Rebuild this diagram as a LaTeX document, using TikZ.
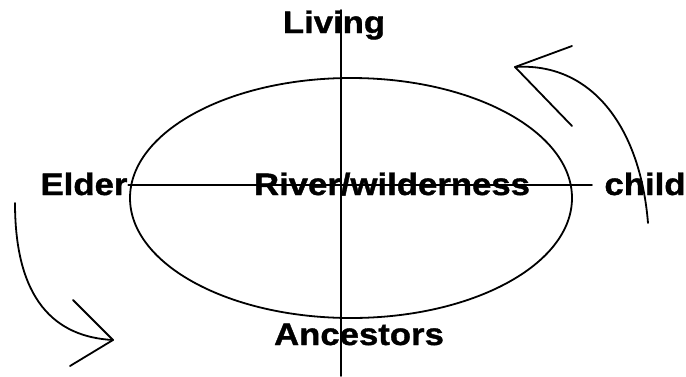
\documentclass[tikz,border=0pt]{standalone}
\usepackage{fontspec}
\setmainfont{Liberation Sans}[FakeStretch=1.12, BoldFeatures={FakeBold=1.2}]
\usetikzlibrary{calc}

\tikzset{
  cycletext/.style={font=\fontsize{31}{36}\selectfont\bfseries, inner sep=0pt, anchor=base},
}

\begin{document}
\begin{tikzpicture}[x=1pt, y=-1pt, line cap=round, line join=round, line width=1.8pt]
  \useasboundingbox (0,0) rectangle (686,376);

  % ellisse centrale
  \coordinate (C) at (351,198);
  \draw (C) ellipse [x radius=221, y radius=120];

  % etichette
  \node[cycletext] (living) at (334,33) {Living};
  \node[cycletext] (ancestors) at (359,345) {Ancestors};
  \node[cycletext] (elder) at (84,195) {Elder};
  \node[cycletext] (river) at (392,195) {River/wilderness};
  \node[cycletext] (child) at (645,195) {child};

  % assi
  \coordinate (vtop) at (341,10);
  \coordinate (vbot) at (341,376);
  \coordinate (hend) at (592,185);
  \draw (vtop) -- (vbot);
  \draw (elder.east |- hend) -- (hend);

  % freccia a destra (child -> living)
  \coordinate (rstart) at (648,223);
  \coordinate (rtip) at (515,67);
  \draw (rstart) .. controls (640,125) and (590,62) .. (rtip);
  \draw (572,46) -- (rtip) -- (572,126);

  % freccia a sinistra (elder -> ancestors)
  \coordinate (lstart) at (15,203);
  \coordinate (ltip) at (113,340);
  \draw (lstart) .. controls (15,300) and (55,337) .. (ltip);
  \draw (73,300) -- (ltip) -- (70,366);
\end{tikzpicture}
\end{document}
